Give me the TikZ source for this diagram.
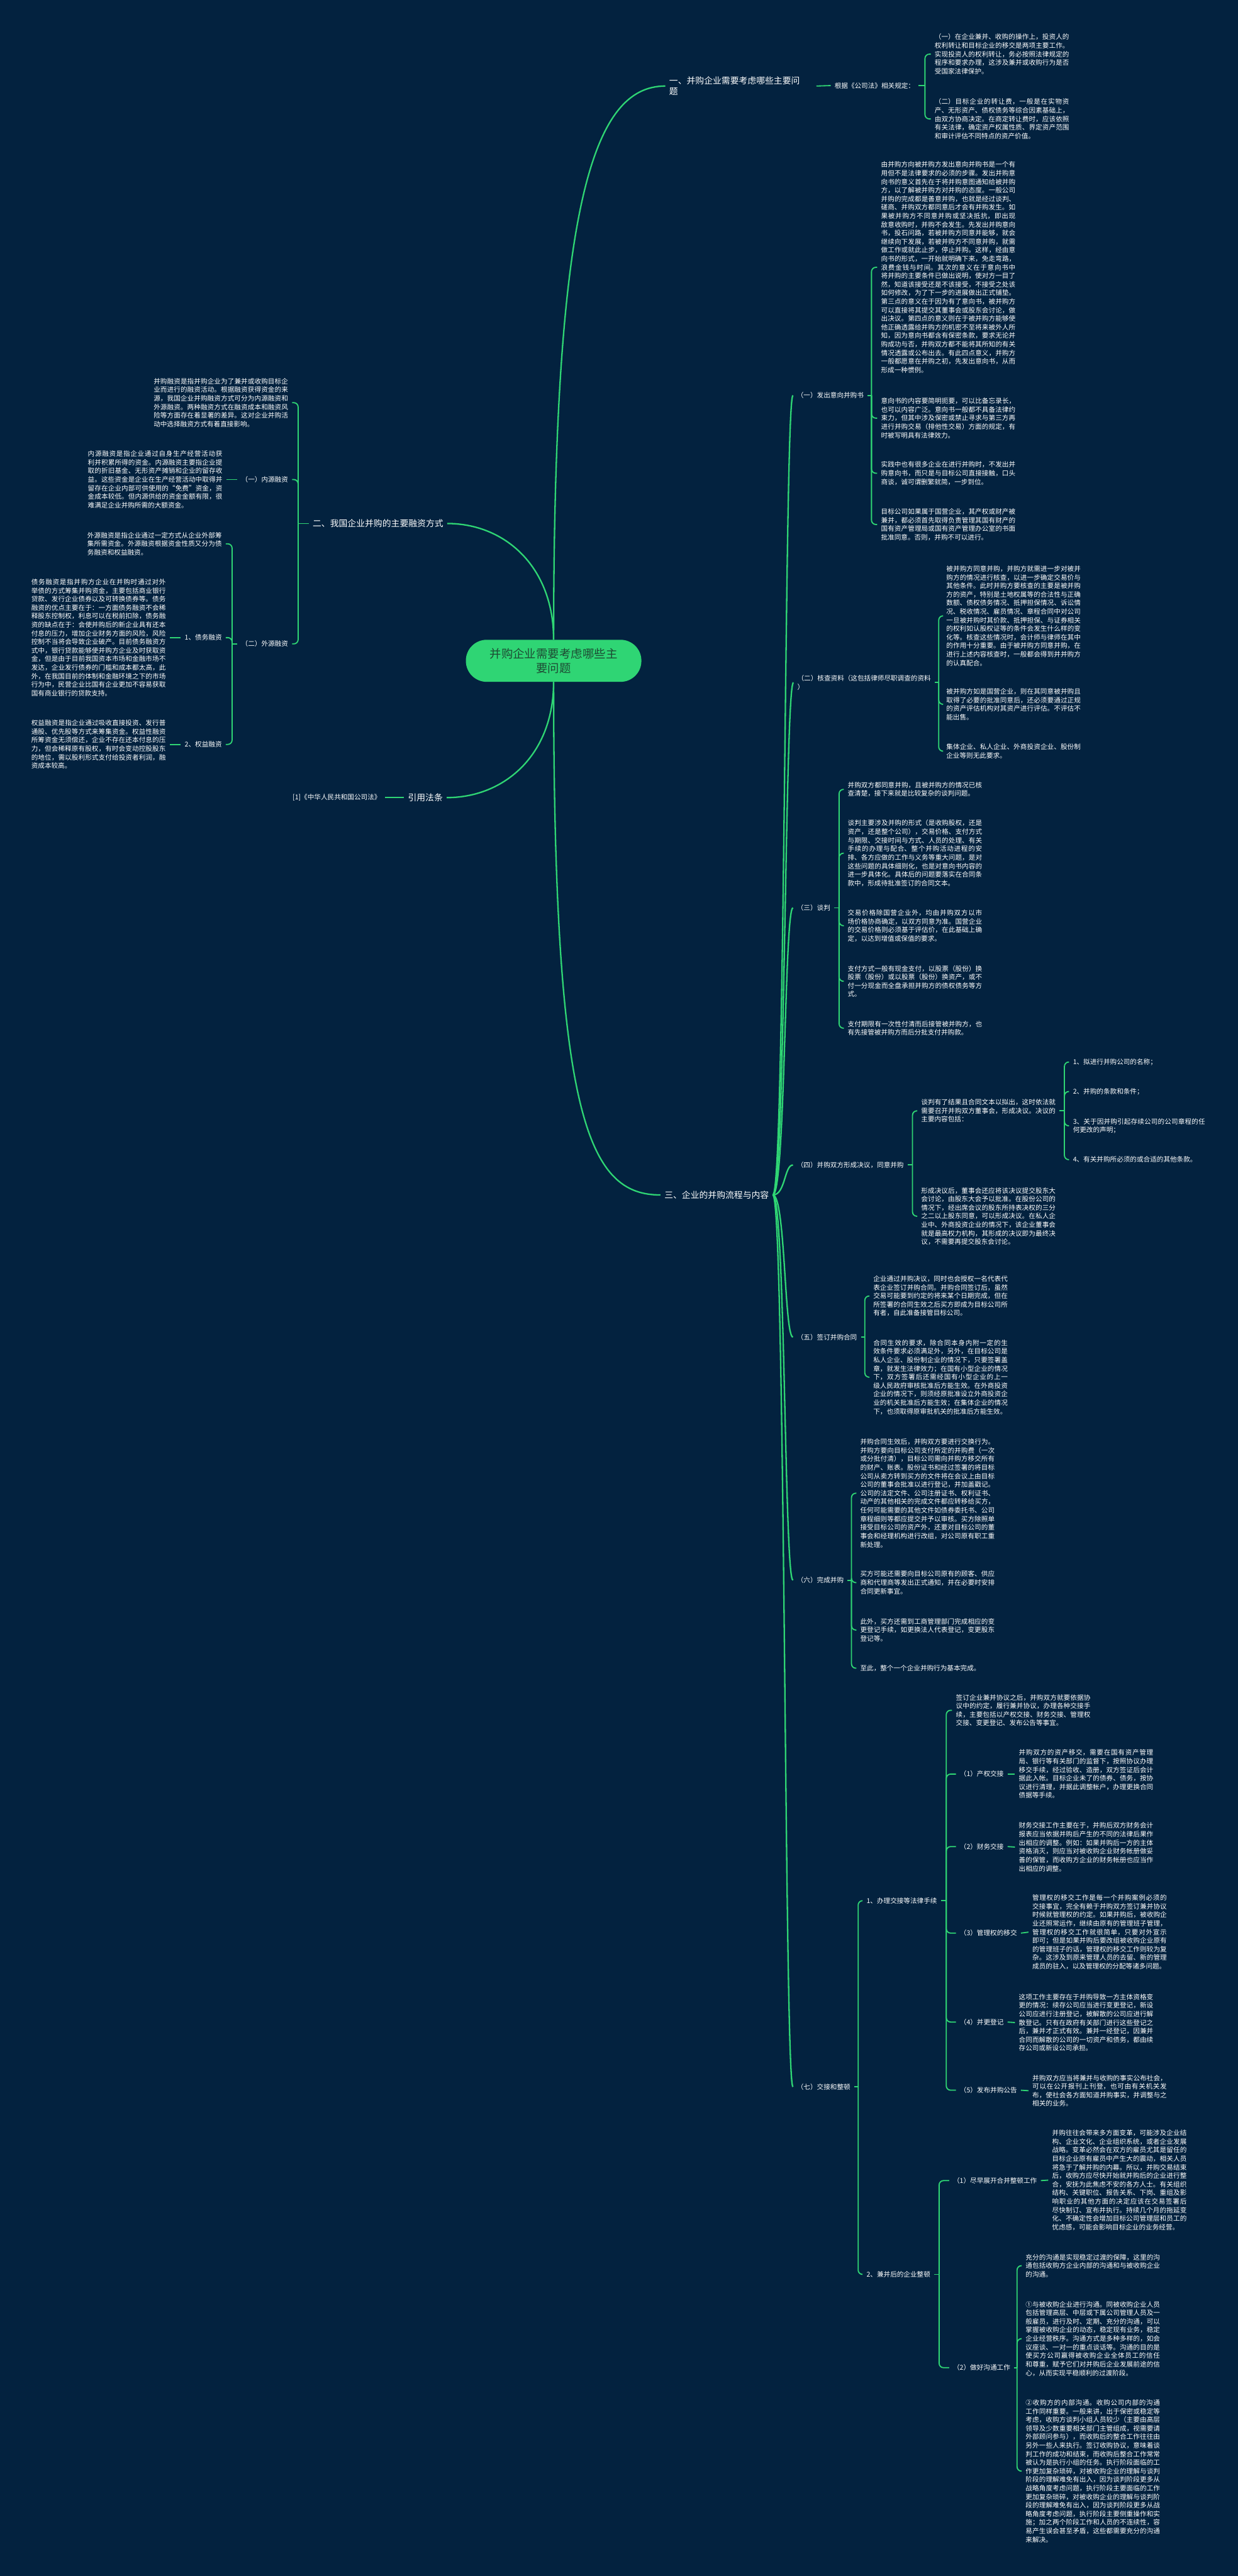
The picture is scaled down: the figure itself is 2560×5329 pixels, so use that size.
\documentclass[tikz,border=0pt]{standalone}
\usepackage{fontspec}
\setmainfont{Noto Sans CJK SC}
\XeTeXlinebreaklocale "zh"
\XeTeXlinebreakskip=0pt plus 1pt
\usetikzlibrary{calc}
\definecolor{bgc}{HTML}{03223F}
\definecolor{lg}{HTML}{2FD574}
\definecolor{ctrtext}{HTML}{1D4A33}
\newcommand\fsb{\fontsize{13.8pt}{17.7pt}\selectfont}
\newcommand\fsl{\fontsize{18pt}{23pt}\selectfont}
\newcommand\fsc{\fontsize{24pt}{30pt}\selectfont}
\tikzset{
 conn/.style={draw=lg, line width=2.4pt, rounded corners=9pt},
 mconn/.style={draw=lg, line width=3pt},
 para/.style={text=white, font=\fsb, text width=278pt, align=justify, inner xsep=8pt, inner ysep=2pt},
 lbl/.style={text=white, font=\fsb, inner xsep=8pt, inner ysep=2pt, align=left},
 blbl/.style={text=white, font=\fsl, inner xsep=8pt, inner ysep=3pt, align=left},
 ctrnode/.style={fill=lg, text=ctrtext, font=\fsc, rounded corners=43pt, minimum width=363pt, minimum height=87pt, align=center},
}
\begin{document}
\begin{tikzpicture}[x=1pt,y=-1pt]
\useasboundingbox (0,0) rectangle (2560,5329);
\fill[bgc] (0,0) rectangle (2560,5329);

% center
\node[ctrnode] (ctr) at (1145,1367) {并购企业需要考虑哪些主\\要问题};

% ---------- branch 1
\node[blbl, anchor=west, text width=296pt] (b1) at (1376,178) {一、并购企业需要考虑哪些主要问\\题};
\node[lbl, anchor=west] (b1a) at (1718,177) {根据《公司法》相关规定：};
\node[para, anchor=west] (b1p1) at (1925,112) {（一）在企业兼并、收购的操作上，投资人的权利转让和目标企业的移交是两项主要工作。实现投资人的权利转让，务必按照法律规定的程序和要求办理，这涉及兼并或收购行为是否受国家法律保护。};
\node[para, anchor=west] (b1p2) at (1925,246) {（二）目标企业的转让费，一般是在实物资产、无形资产、债权债务等综合因素基础上，由双方协商决定。在商定转让费时，应该依照有关法律，确定资产权属性质、界定资产范围和审计评估不同特点的资产价值。};
\draw[mconn] (ctr.north) .. controls +(0,-900) and +(-150,0) .. (b1.west);
\draw[conn] (b1.east) -- (b1a.west);
\draw[conn] (b1a.east) -- ++(13,0) coordinate (sb1);
\draw[conn] (sb1) |- (b1p1.west);
\draw[conn] (sb1) |- (b1p2.west);

% ---------- branch 2 (left)
\node[blbl, anchor=east] (b2) at (925,1083) {二、我国企业并购的主要融资方式};
\node[para, anchor=east] (b2p0) at (604,833) {并购融资是指并购企业为了兼并或收购目标企业而进行的融资活动。根据融资获得资金的来源，我国企业并购融资方式可分为内源融资和外源融资。两种融资方式在融资成本和融资风险等方面存在着显著的差异。这对企业并购活动中选择融资方式有着直接影响。};
\node[lbl, anchor=east] (nei) at (604,992) {（一）内源融资};
\node[lbl, anchor=east] (wai) at (604,1332) {（二）外源融资};
\node[para, anchor=east] (neip) at (468,992) {内源融资是指企业通过自身生产经营活动获利并积累所得的资金。内源融资主要指企业提取的折旧基金、无形资产摊销和企业的留存收益。这些资金是企业在生产经营活动中取得并留存在企业内部可供使用的“免费”资金，资金成本较低。但内源供给的资金金额有限，很难满足企业并购所需的大额资金。};
\node[para, anchor=east] (waip) at (467,1125) {外源融资是指企业通过一定方式从企业外部筹集所需资金。外源融资根据资金性质又分为债务融资和权益融资。};
\node[lbl, anchor=east] (zhai) at (467,1319) {1、债务融资};
\node[lbl, anchor=east] (quan) at (467,1540) {2、权益融资};
\node[para, anchor=east] (zhaip) at (351,1319) {债务融资是指并购方企业在并购时通过对外举债的方式筹集并购资金，主要包括商业银行贷款、发行企业债券以及可转换债券等。债务融资的优点主要在于：一方面债务融资不会稀释股东控制权，利息可以在税前扣除，债务融资的缺点在于：会使并购后的新企业具有还本付息的压力，增加企业财务方面的风险，风险控制不当将会导致企业破产。目前债务融资方式中，银行贷款能够使并购方企业及时获取资金，但是由于目前我国资本市场和金融市场不发达，企业发行债券的门槛和成本都太高，此外，在我国目前的体制和金融环境之下的市场行为中，民营企业比国有企业更加不容易获取国有商业银行的贷款支持。};
\node[para, anchor=east] (quanp) at (351,1540) {权益融资是指企业通过吸收直接投资、发行普通股、优先股等方式来筹集资金。权益性融资所筹资金无须偿还，企业不存在还本付息的压力，但会稀释原有股权，有时会变动控股股东的地位，需以股利形式支付给投资者利润，融资成本较高。};
\draw[mconn] (ctr.north) .. controls +(0,-150) and +(120,0) .. (b2.east);
\draw[conn] (b2.west) -- ++(-22,0) coordinate (sb2);
\draw[conn] (sb2) |- (b2p0.east);
\draw[conn] (sb2) |- (nei.east);
\draw[conn] (sb2) |- (wai.east);
\draw[conn] (nei.west) -- (neip.east);
\draw[conn] (wai.west) -- ++(-11,0) coordinate (swai);
\draw[conn] (swai) |- (waip.east);
\draw[conn] (swai) |- (zhai.east);
\draw[conn] (swai) |- (quan.east);
\draw[conn] (zhai.west) -- (zhaip.east);
\draw[conn] (quan.west) -- (quanp.east);

% ---------- cited law
\node[blbl, anchor=east] (yy) at (924,1650) {引用法条};
\node[lbl, anchor=east] (fa) at (796,1650) {[1]《中华人民共和国公司法》};
\draw[mconn] (ctr.south) .. controls +(0,150) and +(120,0) .. (yy.east);
\draw[conn] (yy.west) -- (fa.east);

% ---------- branch 3
\node[blbl, anchor=west] (b3) at (1366,2472) {三、企业的并购流程与内容};
\draw[mconn] (ctr.south) .. controls +(0,900) and +(-150,0) .. (b3.west);

\node[lbl, anchor=west] (c1) at (1640,818) {（一）发出意向并购书};
\node[lbl, anchor=west] (c2) at (1641,1412) {（二）核查资料（这包括律师尽职调查的资料\\）};
\node[lbl, anchor=west] (c3) at (1640,1878) {（三）谈判};
\node[lbl, anchor=west] (c4) at (1640,2410) {（四）并购双方形成决议，同意并购};
\node[lbl, anchor=west] (c5) at (1640,2766) {（五）签订并购合同};
\node[lbl, anchor=west] (c6) at (1640,3269) {（六）完成并购};
\node[lbl, anchor=west] (c7) at (1640,4317) {（七）交接和整顿};
\foreach \c in {c1,c2,c3,c4,c5,c6,c7}
  \draw[mconn] (b3.east) .. controls +(26,0) and +(-18,0) .. (\c.west);

% (一)
\node[para, anchor=west] (c1p1) at (1814,553) {由并购方向被并购方发出意向并购书是一个有用但不是法律要求的必须的步骤。发出并购意向书的意义首先在于将并购意图通知给被并购方，以了解被并购方对并购的态度。一般公司并购的完成都是善意并购，也就是经过谈判、磋商、并购双方都同意后才会有并购发生。如果被并购方不同意并购或坚决抵抗，即出现敌意收购时，并购不会发生。先发出并购意向书，投石问路，若被并购方同意并能够，就会继续向下发展，若被并购方不同意并购，就需做工作或就此止步，停止并购。这样，经由意向书的形式，一开始就明确下来，免走弯路，浪费金钱与时间。其次的意义在于意向书中将并购的主要条件已做出说明，使对方一目了然，知道该接受还是不该接受，不接受之处该如何修改，为了下一步的进展做出正式铺垫。第三点的意义在于因为有了意向书，被并购方可以直接将其提交其董事会或股东会讨论，做出决议。第四点的意义则在于被并购方能够使他正确透露给并购方的机密不至将来被外人所知，因为意向书都含有保密条款，要求无论并购成功与否，并购双方都不能将其所知的有关情况透露或公布出去。有此四点意义，并购方一般都愿意在并购之初，先发出意向书，从而形成一种惯例。};
\node[para, anchor=west] (c1p2) at (1814,865) {意向书的内容要简明扼要，可以比备忘录长，也可以内容广泛。意向书一般都不具备法律约束力，但其中涉及保密或禁止寻求与第三方再进行并购交易（排他性交易）方面的规定，有时被写明具有法律效力。};
\node[para, anchor=west] (c1p3) at (1814,979) {实践中也有很多企业在进行并购时，不发出并购意向书，而只是与目标公司直接接触，口头商谈，诚可谓删繁就简，一步到位。};
\node[para, anchor=west] (c1p4) at (1814,1085) {目标公司如果属于国营企业，其产权或财产被兼并，都必须首先取得负责管理其国有财产的国有资产管理局或国有资产管理办公室的书面批准同意。否则，并购不可以进行。};
\draw[conn] (c1.east) -- ++(8,0) coordinate (s1);
\foreach \p in {c1p1,c1p2,c1p3,c1p4} \draw[conn] (s1) |- (\p.west);

% (二)
\node[para, anchor=west] (c2p1) at (1949,1274) {被并购方同意并购，并购方就需进一步对被并购方的情况进行核查，以进一步确定交易价与其他条件。此时并购方要核查的主要是被并购方的资产，特别是土地权属等的合法性与正确数额、债权债务情况、抵押担保情况、诉讼情况、税收情况、雇员情况、章程合同中对公司一旦被并购时其价款、抵押担保、与证券相关的权利如认股权证等的条件会发生什么样的变化等。核查这些情况时，会计师与律师在其中的作用十分重要。由于被并购方同意并购，在进行上述内容核查时，一般都会得到并并购方的认真配合。};
\node[para, anchor=west] (c2p2) at (1949,1457) {被并购方如是国营企业，则在其同意被并购且取得了必要的批准同意后，还必须要通过正规的资产评估机构对其资产进行评估。不评估不能出售。};
\node[para, anchor=west] (c2p3) at (1949,1554) {集体企业、私人企业、外商投资企业、股份制企业等则无此要求。};
\draw[conn] (c2.east) -- ++(8,0) coordinate (s2);
\foreach \p in {c2p1,c2p2,c2p3} \draw[conn] (s2) |- (\p.west);

% (三)
\node[para, anchor=west] (c3p1) at (1745,1633) {并购双方都同意并购，且被并购方的情况已核查清楚，接下来就是比较复杂的谈判问题。};
\node[para, anchor=west] (c3p2) at (1745,1765) {谈判主要涉及并购的形式（是收购股权，还是资产，还是整个公司），交易价格、支付方式与期限、交接时间与方式、人员的处理、有关手续的办理与配合、整个并购活动进程的安排、各方应做的工作与义务等重大问题，是对这些问题的具体细则化，也是对意向书内容的进一步具体化。具体后的问题要落实在合同条款中，形成待批准签订的合同文本。};
\node[para, anchor=west] (c3p3) at (1745,1915) {交易价格除国营企业外，均由并购双方以市场价格协商确定，以双方同意为准。国营企业的交易价格则必须基于评估价，在此基础上确定，以达到增值或保值的要求。};
\node[para, anchor=west] (c3p4) at (1745,2030) {支付方式一般有现金支付，以股票（股份）换股票（股份）或以股票（股份）换资产，或不付一分现金而全盘承担并购方的债权债务等方式。};
\node[para, anchor=west] (c3p5) at (1745,2127) {支付期限有一次性付清而后接管被并购方，也有先接管被并购方而后分批支付并购款。};
\draw[conn] (c3.east) -- ++(10,0) coordinate (s3);
\foreach \p in {c3p1,c3p2,c3p3,c3p4,c3p5} \draw[conn] (s3) |- (\p.west);

% (四)
\node[para, anchor=west] (c4a) at (1897,2298) {谈判有了结果且合同文本以拟出，这时依法就需要召开并购双方董事会，形成决议。决议的主要内容包括：};
\node[para, anchor=west] (c4b) at (1897,2516) {形成决议后，董事会还应将该决议提交股东大会讨论，由股东大会予以批准。在股份公司的情况下，经出席会议的股东所持表决权的三分之二以上股东同意，可以形成决议。在私人企业中、外商投资企业的情况下，该企业董事会就是最高权力机构，其形成的决议即为最终决议，不需要再提交股东会讨论。};
\node[para, anchor=west, align=left] (c4a1) at (2211,2197) {1、拟进行并购公司的名称；};
\node[para, anchor=west, align=left] (c4a2) at (2211,2258) {2、并购的条款和条件；};
\node[para, anchor=west, align=left] (c4a3) at (2211,2329) {3、关于因并购引起存续公司的公司章程的任何更改的声明；};
\node[para, anchor=west, align=left] (c4a4) at (2211,2399) {4、有关并购所必须的或合适的其他条款。};
\draw[conn] (c4.east) -- ++(10,0) coordinate (s4);
\foreach \p in {c4a,c4b} \draw[conn] (s4) |- (\p.west);
\draw[conn] (c4a.east) -- ++(10,0) coordinate (s4a);
\foreach \p in {c4a1,c4a2,c4a3,c4a4} \draw[conn] (s4a) |- (\p.west);

% (五)
\node[para, anchor=west] (c5p1) at (1798,2681) {企业通过并购决议，同时也会授权一名代表代表企业签订并购合同。并购合同签订后，虽然交易可能要到约定的将来某个日期完成，但在所签署的合同生效之后买方即成为目标公司所有者，自此准备接管目标公司。};
\node[para, anchor=west] (c5p2) at (1798,2849) {合同生效的要求，除合同本身内附一定的生效条件要求必须满足外，另外，在目标公司是私人企业、股份制企业的情况下，只要签署盖章，就发生法律效力；在国有小型企业的情况下，双方签署后还需经国有小型企业的上一级人民政府审核批准后方能生效。在外商投资企业的情况下，则须经原批准设立外商投资企业的机关批准后方能生效；在集体企业的情况下，也须取得原审批机关的批准后方能生效。};
\draw[conn] (c5.east) -- ++(8,0) coordinate (s5);
\foreach \p in {c5p1,c5p2} \draw[conn] (s5) |- (\p.west);

% (六)
\node[para, anchor=west] (c6p1) at (1771,3089) {并购合同生效后，并购双方要进行交换行为。并购方要向目标公司支付所定的并购费（一次或分批付清），目标公司需向并购方移交所有的财产、账表。股份证书和经过签署的将目标公司从卖方转到买方的文件将在会议上由目标公司的董事会批准以进行登记，并加盖戳记。公司的法定文件、公司注册证书、权利证书、动产的其他相关的完成文件都应转移给买方，任何可能需要的其他文件如债券委托书、公司章程细则等都应提交并予以审核。买方除照单接受目标公司的资产外，还要对目标公司的董事会和经理机构进行改组，对公司原有职工重新处理。};
\node[para, anchor=west] (c6p2) at (1771,3274) {买方可能还需要向目标公司原有的顾客、供应商和代理商等发出正式通知，并在必要时安排合同更新事宜。};
\node[para, anchor=west] (c6p3) at (1771,3372) {此外，买方还需到工商管理部门完成相应的变更登记手续，如更换法人代表登记，变更股东登记等。};
\node[para, anchor=west] (c6p4) at (1771,3451) {至此，整个一个企业并购行为基本完成。};
\draw[conn] (c6.east) -- ++(8,0) coordinate (s6);
\foreach \p in {c6p1,c6p2,c6p3,c6p4} \draw[conn] (s6) |- (\p.west);

% (七)
\node[lbl, anchor=west] (c7a) at (1784,3932) {1、办理交接等法律手续};
\node[lbl, anchor=west] (c7b) at (1784,4705) {2、兼并后的企业整顿};
\draw[conn] (c7.east) -- ++(8,0) coordinate (s7);
\foreach \p in {c7a,c7b} \draw[conn] (s7) |- (\p.west);

\node[para, anchor=west] (c7a0) at (1969,3538) {签订企业兼并协议之后，并购双方就要依据协议中的约定，履行兼并协议，办理各种交接手续，主要包括以产权交接、财务交接、管理权交接、变更登记、发布公告等事宜。};
\node[lbl, anchor=west] (cq) at (1977,3670) {（1）产权交接};
\node[lbl, anchor=west] (cw) at (1977,3820) {（2）财务交接};
\node[lbl, anchor=west] (cg) at (1977,3999) {（3）管理权的移交};
\node[lbl, anchor=west] (cd) at (1977,4183) {（4）并更登记};
\node[lbl, anchor=west] (cf) at (1977,4324) {（5）发布并购公告};
\draw[conn] (c7a.east) -- ++(11,0) coordinate (s7a);
\foreach \p in {c7a0,cq,cw,cg,cd,cf} \draw[conn] (s7a) |- (\p.west);

\node[para, anchor=west] (cqp) at (2099,3670) {并购双方的资产移交，需要在国有资产管理局、银行等有关部门的监督下，按照协议办理移交手续，经过验收、造册，双方签证后会计据此入帐。目标企业未了的债券、债务，按协议进行清理，并据此调整帐户，办理更换合同债据等手续。};
\node[para, anchor=west] (cwp) at (2099,3821) {财务交接工作主要在于，并购后双方财务会计报表应当依据并购后产生的不同的法律后果作出相应的调整。例如：如果并购后一方的主体资格消灭，则应当对被收购企业财务帐册做妥善的保管，而收购方企业的财务帐册也应当作出相应的调整。};
\node[para, anchor=west] (cgp) at (2127,3997) {管理权的移交工作是每一个并购案例必须的交接事宜，完全有赖于并购双方签订兼并协议时候就管理权的约定。如果并购后，被收购企业还照常运作，继续由原有的管理班子管理，管理权的移交工作就很简单，只要对外宣示即可；但是如果并购后要改组被收购企业原有的管理班子的话，管理权的移交工作则较为复杂。这涉及到原来管理人员的去留、新的管理成员的驻入，以及管理权的分配等诸多问题。};
\node[para, anchor=west] (cdp) at (2099,4184) {这项工作主要存在于并购导致一方主体资格变更的情况：续存公司应当进行变更登记，新设公司应进行注册登记，被解散的公司应进行解散登记。只有在政府有关部门进行这些登记之后，兼并才正式有效。兼并一经登记，因兼并合同而解散的公司的一切资产和债务，都由续存公司或新设公司承担。};
\node[para, anchor=west] (cfp) at (2127,4325) {并购双方应当将兼并与收购的事实公布社会，可以在公开报刊上刊登，也可由有关机关发布，使社会各方面知道并购事实，并调整与之相关的业务。};
\draw[conn] (cq.east) -- (cqp.west);
\draw[conn] (cw.east) -- (cwp.west);
\draw[conn] (cg.east) -- (cgp.west);
\draw[conn] (cd.east) -- (cdp.west);
\draw[conn] (cf.east) -- (cfp.west);

\node[lbl, anchor=west] (zd) at (1963,4511) {（1）尽早展开合并整顿工作};
\node[lbl, anchor=west] (gt) at (1963,4898) {（2）做好沟通工作};
\draw[conn] (c7b.east) -- ++(10,0) coordinate (s7b);
\foreach \p in {zd,gt} \draw[conn] (s7b) |- (\p.west);
\node[para, anchor=west] (zdp) at (2168,4510) {并购往往会带来多方面变革，可能涉及企业结构、企业文化、企业组织系统，或者企业发展战略。变革必然会在双方的雇员尤其是留任的目标企业原有雇员中产生大的震动，相关人员将急于了解并购的内幕。所以，并购交易结束后，收购方应尽快开始就并购后的企业进行整合，安抚为此焦虑不安的各方人士。有关组织结构、关键职位、报告关系、下岗、重组及影响职业的其他方面的决定应该在交易签署后尽快制订、宣布并执行。持续几个月的拖延变化、不确定性会增加目标公司管理层和员工的忧虑感，可能会影响目标企业的业务经营。};
\draw[conn] (zd.east) -- (zdp.west);
\node[para, anchor=west] (gt1) at (2113,4687) {充分的沟通是实现稳定过渡的保障，这里的沟通包括收购方企业内部的沟通和与被收购企业的沟通。};
\node[para, anchor=west] (gt2) at (2113,4838) {①与被收购企业进行沟通。同被收购企业人员包括管理高层、中层或下属公司管理人员及一般雇员，进行及时、定期、充分的沟通，可以掌握被收购企业的动态，稳定现有业务，稳定企业经营秩序。沟通方式是多种多样的，如会议座谈、一对一的重点谈话等。沟通的目的是使买方公司赢得被收购企业全体员工的信任和尊重，赋予它们对并购后企业发展前途的信心，从而实现平稳顺利的过渡阶段。};
\node[para, anchor=west] (gt3) at (2113,5112) {②收购方的内部沟通。收购公司内部的沟通工作同样重要。一般来讲，出于保密或稳定等考虑，收购方谈判小组人员较少（主要由高层领导及少数重要相关部门主管组成，视需要请外部顾问参与），而收购后的整合工作往往由另外一些人来执行。签订收购协议，意味着谈判工作的成功和结束，而收购后整合工作常常被认为是执行小组的任务。执行阶段面临的工作更加复杂琐碎，对被收购企业的理解与谈判阶段的理解难免有出入，因为谈判阶段更多从战略角度考虑问题，执行阶段主要面临的工作更加复杂琐碎，对被收购企业的理解与谈判阶段的理解难免有出入，因为谈判阶段更多从战略角度考虑问题，执行阶段主要侧重操作和实施；加之两个阶段工作和人员的不连续性，容易产生误会甚至矛盾，这些都需要充分的沟通来解决。};
\draw[conn] (gt.east) -- ++(6,0) coordinate (sgt);
\foreach \p in {gt1,gt2,gt3} \draw[conn] (sgt) |- (\p.west);
\end{tikzpicture}
\end{document}
